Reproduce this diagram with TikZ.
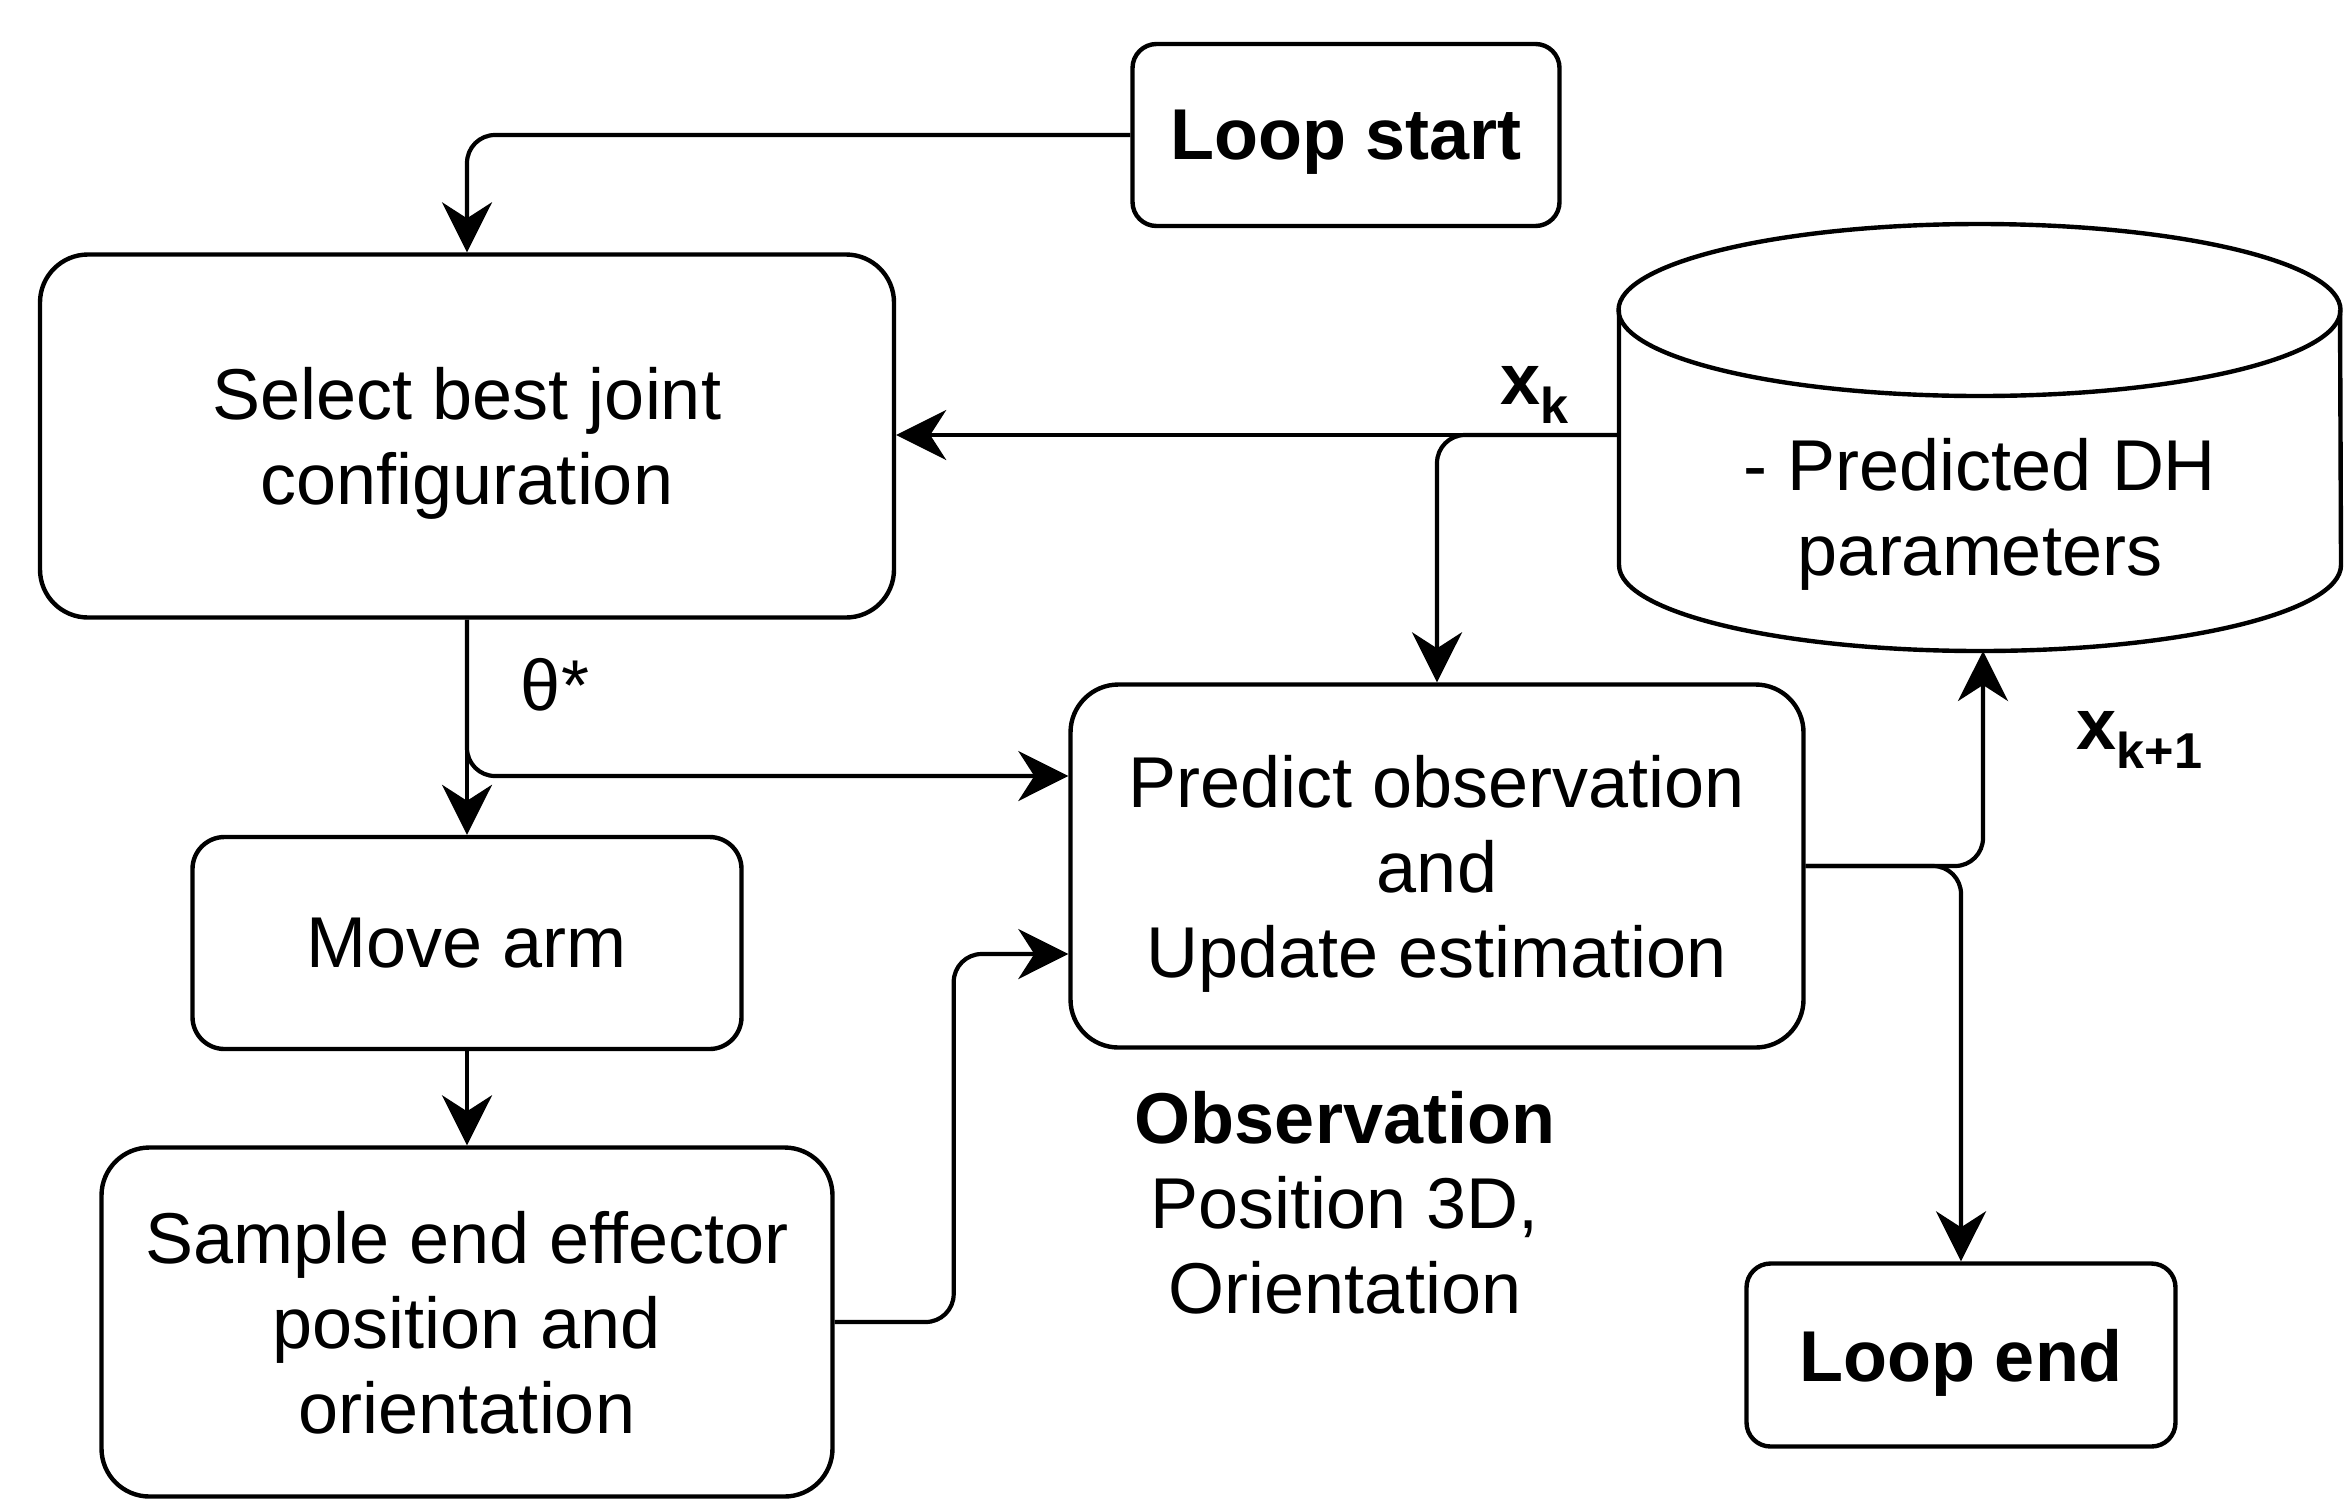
\documentclass[tikz,border=0pt]{standalone}
\usepackage{fontspec}
\setmainfont{Liberation Sans}
\usetikzlibrary{arrows.meta}
\begin{document}
\begin{tikzpicture}[x=0.5pt,y=-0.5pt,
  txt/.style={font=\fontsize{36}{42.5}\selectfont},
  btxt/.style={font=\bfseries\fontsize{36}{42.5}\selectfont},
  box/.style={draw=black, line width=2.2pt, fill=white, align=center, inner sep=0pt, text depth=0pt, txt},
  lbl/.style={align=center, inner sep=0pt, txt},
  conn/.style={line width=2.1pt, -{Stealth[length=25pt,width=25pt,inset=8pt]}, rounded corners=14pt},
]
\useasboundingbox (0,0) rectangle (2344,1500);

% boxes
\node[box, btxt, rounded corners=12pt, minimum width=213.5pt, minimum height=91pt] (start) at (1346,135) {Loop start};
\node[box, rounded corners=24pt, minimum width=427pt, minimum height=181.5pt] (select) at (467,436) {Select best joint\\configuration};
\node[box, rounded corners=24pt, minimum width=366.5pt, minimum height=181.5pt] (predict) at (1437,866) {Predict observation\\and\\Update estimation};
\node[box, rounded corners=16pt, minimum width=274.5pt, minimum height=106pt] (move) at (467,943) {Move arm};
\node[box, rounded corners=24pt, minimum width=365.5pt, minimum height=174.5pt] (sample) at (467,1322) {Sample end effector\\position and\\orientation};
\node[box, btxt, rounded corners=12pt, minimum width=214.5pt, minimum height=91.5pt] (end) at (1961,1355) {Loop end};

% cylinder
\draw[line width=2.2pt, fill=white] (1619,310) -- (1619,565) arc[start angle=180, end angle=360, x radius=180.5pt, y radius=43pt] -- (2340,310);
\draw[line width=2.2pt] (1979.5,310) ellipse [x radius=180.5pt, y radius=43pt];
\node[lbl, text depth=0pt] (db) at (1980,507) {- Predicted DH\\parameters};
\coordinate (dbw) at (1619,435);
\coordinate (dbs) at (1983,651);

% connectors
\draw[conn] (start.west) -| (select.north);
\draw[conn] (dbw) -- (select.east |- dbw);
\draw[conn] (dbw) -| (predict.north);
\draw[conn] (select.south) -- (move.north);
\draw[conn] (select.south) |- ([yshift=45pt]predict.west);
\draw[conn] (move.south) -- (sample.north);
\draw[conn] (sample.east) -- ++(59.5pt,0) |- ([yshift=-44pt]predict.west);
\draw[conn] (predict.east) -| (dbs);
\draw[conn] (predict.east) -| (end.north);

% labels
\node[lbl, btxt] (xk) at (1535,395) {x\textsubscript{k}};
\node[lbl] (theta) at (555,685) {θ*};
\node[lbl, btxt] (xk1) at (2140,740) {x\textsubscript{k+1}};
\node[lbl] (obs) at (1345,1203) {\textbf{Observation}\\Position 3D,\\Orientation};
\end{tikzpicture}
\end{document}
